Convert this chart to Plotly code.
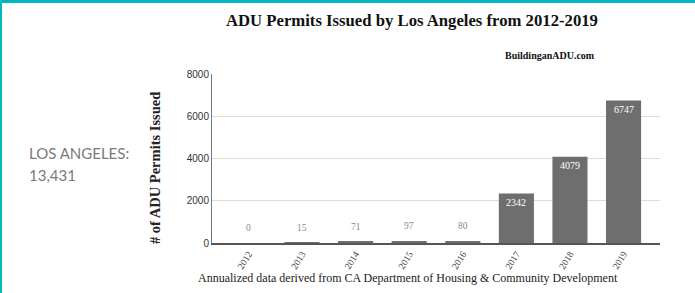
import plotly.graph_objects as go

years = ["2012", "2013", "2014", "2015", "2016", "2017", "2018", "2019"]
permits = [0, 15, 71, 97, 80, 2342, 4079, 6747]
y_ticks = [0, 2000, 4000, 6000, 8000]
title_text = "ADU Permits Issued by Los Angeles from 2012-2019"
source_text = "BuildinganADU.com"
x_title = "Annualized data derived from CA Department of Housing &amp; Community Development"
y_title = "# of ADU Permits Issued"
side_label = "LOS ANGELES:"
side_total = "13,431"

W, H = 695, 293
ML, MR, MT, MB = 212, 35, 74, 50
PW, PH = W - ML - MR, H - MT - MB

def px(x):
    return (x - ML) / PW

def py(y):
    return (H - MB - y) / PH

SERIF = "Liberation Serif, Times New Roman, serif"
SANS = "Liberation Sans, Arial, sans-serif"

fig = go.Figure()
fig.add_trace(go.Bar(
    x=years, y=permits,
    marker=dict(color="#6e6e6e", line=dict(width=0)),
    hoverinfo="x+y",
))

threshold = 1000
for i, v in enumerate(permits):
    if v >= threshold:
        fig.add_annotation(x=i, y=v, xref="x", yref="y", text=str(v), showarrow=False, yshift=-9,
                           font=dict(family=SERIF, size=10, color="white"))
    else:
        fig.add_annotation(x=i, y=v, xref="x", yref="y", text=str(v), showarrow=False, yshift=15,
                           font=dict(family=SERIF, size=9.5, color="#8a8a8a"))

fig.add_annotation(xref="paper", yref="paper", x=px(411.5), y=py(21), text="<b>" + title_text + "</b>",
                   showarrow=False, xanchor="center", yanchor="middle",
                   font=dict(family=SERIF, size=16.7, color="#111"))
fig.add_annotation(xref="paper", yref="paper", x=px(597), y=py(56), text="<b>" + source_text + "</b>",
                   showarrow=False, xanchor="right", yanchor="middle",
                   font=dict(family=SERIF, size=10, color="#111"))
fig.add_annotation(xref="paper", yref="paper", x=px(408), y=py(278), text=x_title,
                   showarrow=False, xanchor="center", yanchor="middle",
                   font=dict(family=SERIF, size=12, color="#222"))
fig.add_annotation(xref="paper", yref="paper", x=px(155), y=py(168), text="<b>" + y_title + "</b>",
                   showarrow=False, xanchor="center", yanchor="middle", textangle=-90,
                   font=dict(family=SERIF, size=14.5, color="#222"))
fig.add_annotation(xref="paper", yref="paper", x=px(27), y=py(153), text=side_label,
                   showarrow=False, xanchor="left", yanchor="middle",
                   font=dict(family="Lato, Open Sans, sans-serif", size=15, color="#7a7a7a"))
fig.add_annotation(xref="paper", yref="paper", x=px(27), y=py(175), text=side_total,
                   showarrow=False, xanchor="left", yanchor="middle",
                   font=dict(family="Lato, Open Sans, sans-serif", size=15, color="#7a7a7a"))

# teal frame (top and left edges)
fig.add_shape(type="rect", xref="paper", yref="paper", x0=px(0), x1=px(W), y0=py(3), y1=py(0),
              fillcolor="#00b7bf", line=dict(width=0), layer="above")
fig.add_shape(type="rect", xref="paper", yref="paper", x0=px(0), x1=px(2), y0=py(H), y1=py(0),
              fillcolor="#00b7bf", line=dict(width=0), layer="above")

fig.update_layout(
    width=W, height=H,
    margin=dict(l=ML, r=MR, t=MT, b=MB),
    paper_bgcolor="white", plot_bgcolor="white",
    showlegend=False,
    bargap=0.345,
    xaxis=dict(
        type="category", range=[-0.68, 7.68],
        tickangle=-58, tickfont=dict(family=SERIF, size=9.5, color="#444"),
        showline=True, linecolor="#555", linewidth=1.5, showgrid=False,
        ticks="", fixedrange=True,
    ),
    yaxis=dict(
        range=[0, 8000], tickvals=y_ticks, ticktext=[str(t) for t in y_ticks],
        tickfont=dict(family=SANS, size=10, color="#333"),
        showline=True, linecolor="#777", linewidth=1,
        showgrid=True, gridcolor="#dcdcdc", gridwidth=1,
        zeroline=False, ticks="", fixedrange=True,
    ),
)

fig.write_html("out.html", config={"displayModeBar": False},
               post_script="document.body.style.margin='0';document.body.style.overflow='hidden';")
